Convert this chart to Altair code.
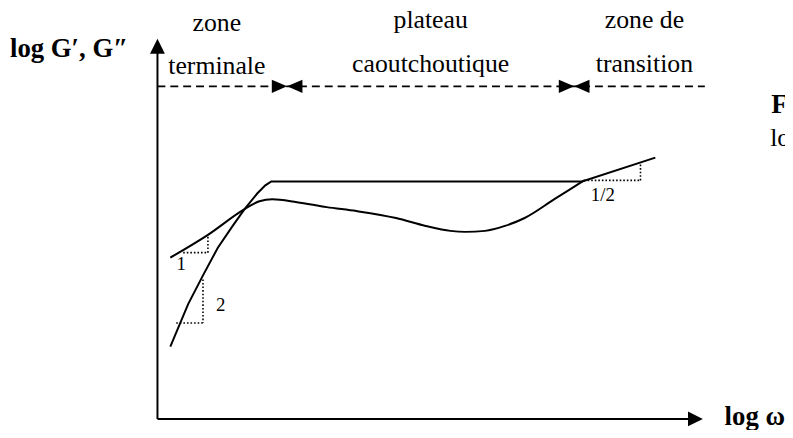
import altair as alt
import pandas as pd

# ---- data (units: log ω / log G, arbitrary schematic units; origin at axes corner) ----
gp_x = [13, 31, 46, 61, 76, 88, 101, 109, 115, 429, 503]          # G' (storage)
gp_y = [73, 116, 145, 173, 195, 212, 228, 236, 240, 240, 264]
gpp_x = [13, 51, 88, 103, 116, 141, 171, 201, 241, 271, 296, 311, 331, 351, 371, 401, 431]  # G'' (loss)
gpp_y = [163, 186, 212, 220, 222, 219, 214, 210, 203, 195, 190, 189, 190, 195, 203, 222, 241]

axis_x_end = 551
axis_y_end = 384
zone_line_y = 336
zone_line_end = 553
zone_bounds = [131, 421]

zone_labels_1 = ["zone", "plateau", "zone de"]
zone_labels_2 = ["terminale", "caoutchoutique", "transition"]
zone_label_x = [60, 276, 492]
zone_label_y1 = [392, 395, 395]
zone_label_y2 = [348, 351, 351]

# slope triangles (dotted): x, y, x2, y2
tri_x = [26, 51, 46, 19, 431, 488]
tri_y = [168, 168, 141, 97, 241, 241]
tri_x2 = [51, 51, 46, 46, 488, 488]
tri_y2 = [168, 186, 97, 97, 241, 259]
slope_labels = ["1", "2", "1/2"]
slope_x = [24, 64, 450]
slope_y = [150, 109, 220]

titles = ["log G\u2032, G\u2033", "log \u03c9", "F"]
title_x = [-149, 573, 620]
title_y = [366, -6, 309]
extra_text = ["lo"]
extra_x = [619]
extra_y = [276]

XD = [-151, 634]
YD = [-9, 413]
xs = alt.Scale(domain=XD, nice=False, zero=False)
ys = alt.Scale(domain=YD, nice=False, zero=False)
FONT = "Liberation Serif"

def X(f="x"):
    return alt.X(f"{f}:Q", scale=xs, axis=None)

def Y(f="y"):
    return alt.Y(f"{f}:Q", scale=ys, axis=None)

gp = pd.DataFrame({"x": gp_x, "y": gp_y})
gpp = pd.DataFrame({"x": gpp_x, "y": gpp_y})

l_gp = alt.Chart(gp).mark_line(color="black", strokeWidth=2, interpolate="linear").encode(x=X(), y=Y(), order="x:Q")
l_gpp = alt.Chart(gpp).mark_line(color="black", strokeWidth=2, interpolate="monotone").encode(x=X(), y=Y(), order="x:Q")

axes_df = pd.DataFrame({"x": [0, 0], "y": [0, 0], "x2": [axis_x_end - 14, 0], "y2": [0, axis_y_end - 14]})
axes = alt.Chart(axes_df).mark_rule(color="black", strokeWidth=2).encode(x=X(), y=Y(), x2="x2:Q", y2="y2:Q")

arr_r = alt.Chart(pd.DataFrame({"x": [axis_x_end], "y": [0]})).mark_point(
    shape="M-2,-1L0,0L-2,1Z", size=225, filled=True, color="black", opacity=1, strokeWidth=0
).encode(x=X(), y=Y())
arr_u = alt.Chart(pd.DataFrame({"x": [0], "y": [axis_y_end]})).mark_point(
    shape="M-1,2L0,0L1,2Z", size=225, filled=True, color="black", opacity=1, strokeWidth=0
).encode(x=X(), y=Y())

dash = alt.Chart(pd.DataFrame({"x": [0], "x2": [zone_line_end], "y": [zone_line_y]})).mark_rule(
    color="black", strokeWidth=2, strokeDash=[8, 5]
).encode(x=X(), x2="x2:Q", y=Y())

bdf = pd.DataFrame({"x": zone_bounds, "y": [zone_line_y] * len(zone_bounds)})
b_r = alt.Chart(bdf).mark_point(shape="M-2,-0.85L0,0L-2,0.85Z", size=240, filled=True, color="black",
                                opacity=1, strokeWidth=0).encode(x=X(), y=Y())
b_l = alt.Chart(bdf).mark_point(shape="M2,-0.85L0,0L2,0.85Z", size=240, filled=True, color="black",
                                opacity=1, strokeWidth=0).encode(x=X(), y=Y())

tri = alt.Chart(pd.DataFrame({"x": tri_x, "y": tri_y, "x2": tri_x2, "y2": tri_y2})).mark_rule(
    color="black", strokeWidth=1.6, strokeDash=[1.6, 2]
).encode(x=X(), y=Y(), x2="x2:Q", y2="y2:Q")

zdf1 = pd.DataFrame({"t": zone_labels_1, "x": zone_label_x, "y": zone_label_y1})
zdf2 = pd.DataFrame({"t": zone_labels_2, "x": zone_label_x, "y": zone_label_y2})
ztxt1 = alt.Chart(zdf1).mark_text(font=FONT, fontSize=26, align="center", baseline="alphabetic", color="black").encode(x=X(), y=Y(), text="t:N")
ztxt2 = alt.Chart(zdf2).mark_text(font=FONT, fontSize=26, align="center", baseline="alphabetic", color="black").encode(x=X(), y=Y(), text="t:N")

stxt = alt.Chart(pd.DataFrame({"t": slope_labels, "x": slope_x, "y": slope_y})).mark_text(
    font=FONT, fontSize=19, align="center", baseline="alphabetic", color="black"
).encode(x=X(), y=Y(), text="t:N")

ttxt = alt.Chart(pd.DataFrame({"t": titles, "x": title_x, "y": title_y})).mark_text(
    font=FONT, fontSize=27, fontWeight="bold", align="left", baseline="alphabetic", color="black"
).encode(x=X(), y=Y(), text="t:N")

etxt = alt.Chart(pd.DataFrame({"t": extra_text, "x": extra_x, "y": extra_y})).mark_text(
    font=FONT, fontSize=26, align="left", baseline="alphabetic", color="black"
).encode(x=X(), y=Y(), text="t:N")

chart = alt.layer(
    dash, axes, arr_r, arr_u, b_r, b_l, tri, l_gp, l_gpp, ztxt1, ztxt2, stxt, ttxt, etxt
).properties(
    width=785, height=422, autosize=alt.AutoSizeParams(type="none"), padding=0, background="white"
).configure_view(stroke=None)

chart.save("out.html", embed_options={"renderer": "svg", "actions": False})
